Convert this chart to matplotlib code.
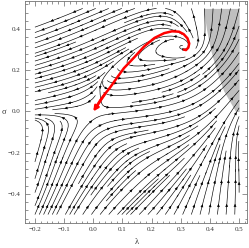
import numpy as np
import matplotlib.pyplot as plt
from matplotlib.patches import FancyArrowPatch
from matplotlib.ticker import MultipleLocator

plt.rcParams['font.family'] = ['Liberation Serif', 'DejaVu Serif']

# fixed points: saddle at the origin, spiral source
crit_lam = [0.0, 0.305]
crit_sig = [0.0, 0.315]
crit_jac = [[[1.0, -0.9], [0.0, -1.0]],
            [[0.3, -1.0], [1.0, 0.3]]]
crit_scale = [0.12, 0.08]

# flow directions (lambda, sigma, d_lambda, d_sigma)
anc_lam = [-0.18, -0.18, -0.18, -0.06, -0.06, 0.06, 0.16,
           0.36, 0.36, 0.28, 0.18,
           0.46, 0.47, 0.49,
           0.44, 0.42, 0.47, 0.22, 0.30, 0.37, 0.30,
           0.37, 0.44, 0.50, 0.36, 0.44, 0.50, 0.50,
           0.25, 0.15, 0.05, -0.05,
           -0.17, -0.17, -0.08]
anc_sig = [0.48, 0.32, 0.16, 0.48, 0.32, 0.46, 0.48,
           0.47, 0.15, 0.10, 0.06,
           0.45, 0.25, 0.08,
           -0.03, -0.12, -0.12, -0.05, -0.06, -0.07, -0.18,
           -0.25, -0.25, -0.25, -0.45, -0.45, -0.45, -0.10,
           -0.30, -0.45, -0.30, -0.45,
           -0.45, -0.28, -0.25]
anc_u = [-1, -1, -1, -1, -1, -1, -1,
         -0.15, 0.55, 0.9, 1,
         0.35, 0.4, 0.5,
         0.6, 0.3, -0.35, 1, 1, 1, 0.85,
         0.35, 0.02, -0.3, 0.3, 0.05, -0.15, -0.6,
         0.7, 0.6, 0.55, 0.45,
         0.25, 0.1, 0.3]
anc_v = [-0.5, -0.45, -0.3, -0.6, -0.6, -0.65, -0.5,
         1, 0.85, 0.45, 0.25,
         0.94, 0.92, 0.87,
         0.8, 1, 1, 0.0, 0.05, 0.2, 0.45,
         1, 1, 1, 1, 1, 1, 0.8,
         0.7, 0.8, 0.85, 0.9,
         0.97, 1, 0.95]

# shaded region, right of this boundary, 0 <= sigma <= 0.5
bnd_sig = [0.0, 0.1, 0.2, 0.3, 0.4, 0.5]
bnd_lam = [0.488, 0.447, 0.422, 0.402, 0.388, 0.378]

# red trajectory from the spiral to the origin
red_lam = [0.311, 0.318, 0.326, 0.329, 0.323, 0.31, 0.294, 0.27, 0.243,
           0.21, 0.174, 0.14, 0.105, 0.082, 0.058, 0.04, 0.024, 0.01, 0.0]
red_sig = [0.300, 0.298, 0.31, 0.33, 0.355, 0.375, 0.387, 0.389, 0.38,
           0.357, 0.315, 0.262, 0.21, 0.165, 0.117, 0.085, 0.054, 0.022, 0.0]

lam = np.linspace(-0.2, 0.5, 141)
sig = np.linspace(-0.5, 0.5, 201)
L, S = np.meshgrid(lam, sig)

nu = np.zeros_like(L)
nv = np.zeros_like(L)
den = np.zeros_like(L)
for x0, y0, J, s in zip(crit_lam, crit_sig, crit_jac, crit_scale):
    dx, dy = L - x0, S - y0
    w = (0.07 ** 2 / (dx ** 2 + dy ** 2 + 1e-10)) ** 1.5
    nu += w * (J[0][0] * dx + J[0][1] * dy) / s
    nv += w * (J[1][0] * dx + J[1][1] * dy) / s
    den += w
for x0, y0, u, v in zip(anc_lam, anc_sig, anc_u, anc_v):
    dx, dy = L - x0, S - y0
    w = np.exp(-(dx ** 2 + dy ** 2) / (2 * 0.1 ** 2))
    n = np.hypot(u, v)
    nu += w * u / n
    nv += w * v / n
    den += w
U = nu / den
V = nv / den

fig = plt.figure(figsize=(2.49, 2.48), dpi=100)
ax = fig.add_axes([25 / 249, 25 / 248, 222 / 249, 222 / 248])
ax.set_xlim(-0.234, 0.527)
ax.set_ylim(-0.541, 0.536)

ax.fill_betweenx(bnd_sig, bnd_lam, 0.5, color='0.75', lw=0, zorder=0)

sp = ax.streamplot(L, S, U, V, color='black', linewidth=0.45, density=1.6,
                   arrowstyle='-', minlength=0.2)

# several small arrowheads along every streamline
segs = [np.asarray(g) for g in sp.lines.get_segments()]
if all(len(g) == 2 for g in segs):
    trajs = []
    cur = [segs[0][0], segs[0][1]]
    for a, b in zip(segs[:-1], segs[1:]):
        if np.allclose(a[1], b[0]):
            cur.append(b[1])
        else:
            trajs.append(np.array(cur))
            cur = [b[0], b[1]]
    trajs.append(np.array(cur))
else:
    trajs = segs

inv = ax.transData.inverted()
for t in trajs:
    d = ax.transData.transform(t)
    step = np.hypot(*np.diff(d, axis=0).T)
    s = np.concatenate([[0], np.cumsum(step)])
    if s[-1] < 10:
        continue
    for pos in np.arange(9, s[-1] - 3, 24):
        i = np.searchsorted(s, pos) - 1
        i = min(max(i, 0), len(step) - 1)
        if step[i] == 0:
            continue
        f = (pos - s[i]) / step[i]
        p = d[i] + f * (d[i + 1] - d[i])
        u = (d[i + 1] - d[i]) / step[i]
        a0, a1 = inv.transform([p - 1.6 * u, p + 1.6 * u])
        ax.annotate('', xy=a1, xytext=a0,
                    arrowprops=dict(arrowstyle='-|>', color='black', lw=0.3,
                                    mutation_scale=4, shrinkA=0, shrinkB=0))

ax.plot(red_lam[:-1], red_sig[:-1], color='red', lw=1.8, solid_capstyle='round', zorder=5)
ax.add_patch(FancyArrowPatch((red_lam[-4], red_sig[-4]), (red_lam[-1], red_sig[-1]),
                             arrowstyle='-|>', mutation_scale=7, color='red', lw=1.8,
                             shrinkA=0, shrinkB=0, zorder=6))

ax.xaxis.set_major_locator(MultipleLocator(0.1))
ax.xaxis.set_minor_locator(MultipleLocator(0.02))
ax.yaxis.set_major_locator(MultipleLocator(0.2))
ax.yaxis.set_minor_locator(MultipleLocator(0.04))
ax.xaxis.set_major_formatter(lambda x, p: f'{x:.1f}'.replace('-', '\u2212'))
ax.yaxis.set_major_formatter(lambda x, p: f'{x:.1f}'.replace('-', '\u2212'))
ax.tick_params(which='both', direction='in', top=True, right=True,
               width=0.5, color='0.4', labelsize=5, labelcolor='0.2')
ax.tick_params(which='major', length=3.5, pad=3)
ax.tick_params(which='minor', length=1.8)
for spn in ax.spines.values():
    spn.set_linewidth(0.6)
    spn.set_color('0.45')

fig.text(137 / 249, 1 - 242 / 248, '\u03bb', ha='center', va='center', fontsize=6, color='0.2')
fig.text(4 / 249, 1 - 112 / 248, '\u03c3', ha='center', va='center', fontsize=6, color='0.2')

fig.savefig('out.png', dpi=100)
